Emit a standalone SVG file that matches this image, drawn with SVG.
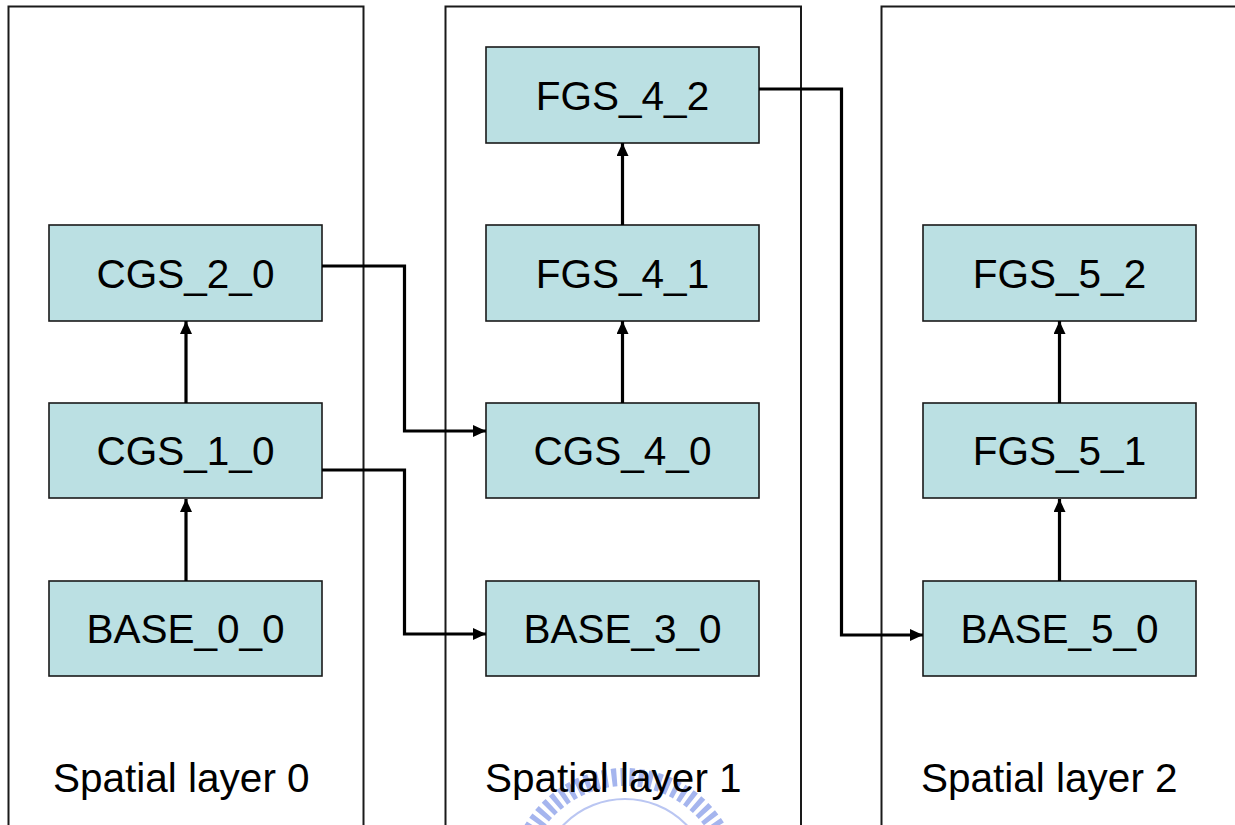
<svg xmlns="http://www.w3.org/2000/svg" width="1235" height="825" viewBox="0 0 1235 825">
<style>
.panel{fill:none;stroke:#1a1a1a;stroke-width:2}
.box{fill:#BBE0E3;stroke:#1a1a1a;stroke-width:1.6}
.lbl{font-family:"Liberation Sans",Arial,sans-serif;font-size:40.5px;fill:#000;text-anchor:middle}
.cap{font-family:"Liberation Sans",Arial,sans-serif;font-size:40.5px;fill:#000}
.con{fill:none;stroke:#000;stroke-width:3.2;marker-end:url(#ah)}
</style>
<defs>
<marker id="ah" markerUnits="userSpaceOnUse" markerWidth="14" markerHeight="13" refX="13" refY="6" orient="auto">
<path d="M0,0 L13,6 L0,12 Z" fill="#000"/>
</marker>
</defs>
<rect width="1235" height="825" fill="#fff"/>
<g id="watermark" opacity="0.8">
<circle cx="625" cy="885" r="108" fill="none" stroke="#8fa3ea" stroke-width="18" stroke-dasharray="5 4"/>
<circle cx="625" cy="885" r="86" fill="none" stroke="#a9b8f0" stroke-width="2"/>
</g>
<g id="panel0"><rect class="panel" x="8.5" y="6.5" width="355" height="830"/><text class="cap" x="53" y="792">Spatial layer 0</text></g>
<g id="panel1"><rect class="panel" x="445.5" y="6.5" width="355.5" height="830"/><text class="cap" x="485" y="792">Spatial layer 1</text></g>
<g id="panel2"><rect class="panel" x="881.5" y="6.5" width="400" height="830"/><text class="cap" x="921" y="792">Spatial layer 2</text></g>
<g id="CGS_2_0"><rect class="box" x="49" y="225" width="273" height="96"/><text class="lbl" x="185.5" y="288">CGS_2_0</text></g>
<g id="CGS_1_0"><rect class="box" x="49" y="403" width="273" height="95"/><text class="lbl" x="185.5" y="465">CGS_1_0</text></g>
<g id="BASE_0_0"><rect class="box" x="49" y="581" width="273" height="95"/><text class="lbl" x="185.5" y="643">BASE_0_0</text></g>
<g id="FGS_4_2"><rect class="box" x="486" y="47" width="273" height="96"/><text class="lbl" x="622.5" y="110">FGS_4_2</text></g>
<g id="FGS_4_1"><rect class="box" x="486" y="225" width="273" height="96"/><text class="lbl" x="622.5" y="288">FGS_4_1</text></g>
<g id="CGS_4_0"><rect class="box" x="486" y="403" width="273" height="95"/><text class="lbl" x="622.5" y="465">CGS_4_0</text></g>
<g id="BASE_3_0"><rect class="box" x="486" y="581" width="273" height="95"/><text class="lbl" x="622.5" y="643">BASE_3_0</text></g>
<g id="FGS_5_2"><rect class="box" x="923" y="225" width="273" height="96"/><text class="lbl" x="1059.5" y="288">FGS_5_2</text></g>
<g id="FGS_5_1"><rect class="box" x="923" y="403" width="273" height="95"/><text class="lbl" x="1059.5" y="465">FGS_5_1</text></g>
<g id="BASE_5_0"><rect class="box" x="923" y="581" width="273" height="95"/><text class="lbl" x="1059.5" y="643">BASE_5_0</text></g>
<g id="connectors">
<path class="con" d="M186,581 V499"/>
<path class="con" d="M186,403 V321"/>
<path class="con" d="M622.5,403 V321"/>
<path class="con" d="M622.5,225 V143"/>
<path class="con" d="M1059.5,581 V499"/>
<path class="con" d="M1059.5,403 V321"/>
<path class="con" d="M322,266 H404.5 V431 H486"/>
<path class="con" d="M322,470 H404.5 V634 H486"/>
<path class="con" d="M759,89 H841.5 V635 H923"/>
</g>
</svg>
